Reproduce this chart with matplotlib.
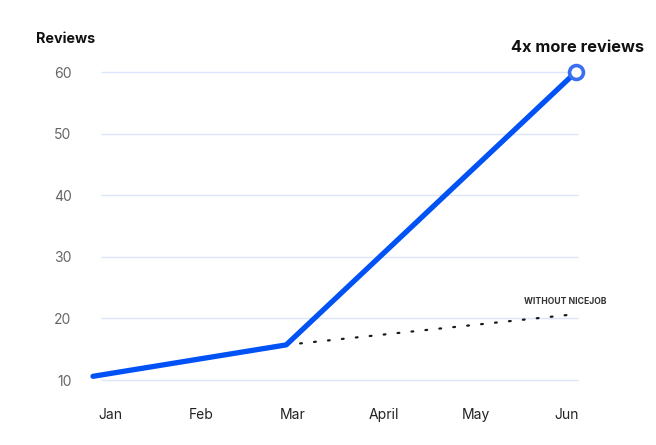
import matplotlib
matplotlib.use("Agg")
import matplotlib.pyplot as plt
import numpy as np

months = ["Jan", "Feb", "Mar", "April", "May", "Jun"]
nicejob_x = [0, 2, 5]
nicejob_y = [10.6, 15.7, 60.0]
without_x = [2, 5]
without_y = [15.7, 20.7]
yticks = [10, 20, 30, 40, 50, 60]

plt.rcParams['font.family'] = ['Inter', 'DejaVu Sans']

W, H = 656, 445
fig = plt.figure(figsize=(W / 100, H / 100), dpi=100)
ax_l, ax_r, ax_b, ax_t = 80, 600, 400, 60
ax = fig.add_axes([ax_l / W, (H - ax_b) / H, (ax_r - ax_l) / W, (ax_b - ax_t) / H])

# pixel mapping: x=0 -> 93px, x=5 -> 576px
pxu = (576 - 93) / 5
ax.set_xlim(-(93 - ax_l) / pxu, 5 + (ax_r - 576) / pxu)
pyu = (380 - 72) / 50
ax.set_ylim(10 - (ax_b - 380) / pyu, 60 + (72 - ax_t) / pyu)

gx0 = (101 - 93) / pxu
gx1 = (578 - 93) / pxu
ax.hlines(yticks, gx0, gx1, color="#dde5fb", linewidth=1.0, zorder=1)

ax.plot(without_x, without_y, color="#1a1a1a", linestyle=(0, (0.8, 5.5)),
        linewidth=1.6, dash_capstyle="round", zorder=2)
ax.plot(nicejob_x, nicejob_y, color="#0052f5", linewidth=3.8,
        solid_capstyle="round", solid_joinstyle="round", zorder=3)
ax.plot([nicejob_x[-1]], [nicejob_y[-1]], marker="o", markersize=10,
        markerfacecolor="white", markeredgecolor="#3a6ff2", markeredgewidth=2.6,
        zorder=4, clip_on=False)

for s in ax.spines.values():
    s.set_visible(False)

ax.set_yticks(yticks)
ax.set_yticklabels([str(v) for v in yticks], fontsize=10, color="#666666")
tick_pos = np.arange(len(months)) * 0.945 + 0.18
ax.set_xticks(tick_pos)
ax.set_xticklabels(months, fontsize=10, color="#222222")
ax.tick_params(axis="both", length=0)
ax.tick_params(axis="y", pad=6)
ax.tick_params(axis="x", pad=6)

fig.text(36 / W, 1 - 39 / H, "Reviews", fontsize=10.3, fontweight="bold",
         color="#111111", ha="left", va="center")
fig.text(644 / W, 1 - 47 / H, "4x more reviews", fontsize=11.8, fontweight="bold",
         color="#111111", ha="right", va="center")
fig.text(606 / W, 1 - 301 / H, "WITHOUT NICEJOB", fontsize=6.2, fontweight="bold",
         color="#333333", ha="right", va="center")

fig.savefig("out.png", dpi=100)
